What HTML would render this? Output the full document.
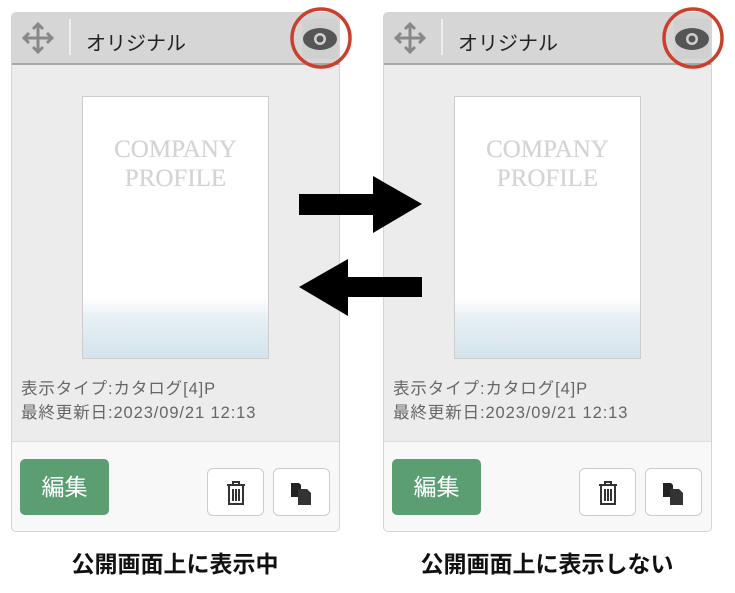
<!DOCTYPE html>
<html><head><meta charset="utf-8"><style>
body{margin:0;width:735px;height:593px;background:#fff;position:relative;overflow:hidden;font-family:"Liberation Sans","Noto Sans CJK JP",sans-serif}
.card{position:absolute;top:12px;width:329px;height:520px;border:1px solid #d4d4d4;border-radius:5px;overflow:hidden;background:#ececec;box-sizing:border-box}
.hd{position:absolute;left:0;top:0;width:100%;height:50px;background:#d6d6d6;border-bottom:2px solid #a8a8a8}
.sep{position:absolute;left:57px;top:6px;width:2px;height:36px;background:#eee}
.ttl{position:absolute;left:74px;top:14px;font-size:20px;color:#222}
.eyeb{position:absolute;left:290px;top:6px;width:36px;height:40px;background:#d0d0d0;border-radius:4px}
.img{position:absolute;left:70px;top:83px;width:187px;height:263px;border:1px solid #ccc;box-sizing:border-box;background:linear-gradient(#fff 0,#fff 200px,#e6eff4 222px,#d3e3ec 262px)}
.ct{position:absolute;left:0;width:100%;text-align:center;font-family:"Liberation Serif",serif;font-size:25px;color:#d4d4d4;text-shadow:0 0 0.5px #d4d4d4}
.info{position:absolute;left:9px;font-size:16.5px;color:#666;letter-spacing:0.9px}
.ft{position:absolute;left:0;top:428px;width:100%;height:92px;background:#f8f8f8;border-top:1px solid #ddd}
.edit{position:absolute;left:8px;top:17px;width:89px;height:56px;background:#5a9e72;border-radius:5px;color:#fff;font-size:23px;text-align:center;line-height:56px}
.btn{position:absolute;top:26px;width:57px;height:48px;background:#fff;border:1px solid #ccc;border-radius:6px;box-sizing:border-box}
.lbl{position:absolute;top:545px;font-size:23px;font-weight:bold;color:#111;text-align:center;width:330px}
</style></head><body>

<div class="card" style="left:11px">
<div class="hd"><svg style="position:absolute;left:8px;top:7px" width="36" height="36" viewBox="0 0 36 36" fill="none" stroke="#888" stroke-width="3"><path d="M18 4v28M4 18h28M13 9l5-5 5 5M13 27l5 5 5-5M9 13l-5 5 5 5M27 13l5 5-5 5"/></svg><div class="sep"></div><div class="ttl">オリジナル</div><div class="eyeb"><svg style="position:absolute;left:1px;top:9px" width="34" height="22" viewBox="0 0 34 22"><ellipse cx="17" cy="11" rx="17" ry="11" fill="#555"/><circle cx="17" cy="11" r="6" fill="#d0d0d0"/><circle cx="17" cy="11" r="3.5" fill="#555"/></svg></div></div>
<div class="img"><div class="ct" style="top:39px">COMPANY</div><div class="ct" style="top:68px">PROFILE</div></div>
<div class="info" style="top:362px">表示タイプ:カタログ[4]P</div>
<div class="info" style="top:386px">最終更新日:2023/09/21 12:13</div>
<div class="ft"><div class="edit">編集</div>
<div class="btn" style="left:195px"><svg style="position:absolute;left:18px;top:12px" width="20" height="24" viewBox="0 0 20 24" fill="none" stroke="#333" stroke-width="2"><path d="M1 4h18M7 4V1h6v3M3 5v18h14V5M7 8v12M10 8v12M13 8v12"/></svg></div>
<div class="btn" style="left:261px"><svg style="position:absolute;left:17px;top:14px" width="22" height="22" viewBox="0 0 22 22"><path d="M0 0h8l2 2v12H0z" fill="#222"/><path d="M7 6h9l4 4v12H7z" fill="#333"/></svg></div>
</div></div>

<div class="card" style="left:383px">
<div class="hd"><svg style="position:absolute;left:8px;top:7px" width="36" height="36" viewBox="0 0 36 36" fill="none" stroke="#888" stroke-width="3"><path d="M18 4v28M4 18h28M13 9l5-5 5 5M13 27l5 5 5-5M9 13l-5 5 5 5M27 13l5 5-5 5"/></svg><div class="sep"></div><div class="ttl">オリジナル</div><div class="eyeb"><svg style="position:absolute;left:1px;top:9px" width="34" height="22" viewBox="0 0 34 22"><ellipse cx="17" cy="11" rx="17" ry="11" fill="#555"/><circle cx="17" cy="11" r="6" fill="#d0d0d0"/><circle cx="17" cy="11" r="3.5" fill="#555"/></svg></div></div>
<div class="img"><div class="ct" style="top:39px">COMPANY</div><div class="ct" style="top:68px">PROFILE</div></div>
<div class="info" style="top:362px">表示タイプ:カタログ[4]P</div>
<div class="info" style="top:386px">最終更新日:2023/09/21 12:13</div>
<div class="ft"><div class="edit">編集</div>
<div class="btn" style="left:195px"><svg style="position:absolute;left:18px;top:12px" width="20" height="24" viewBox="0 0 20 24" fill="none" stroke="#333" stroke-width="2"><path d="M1 4h18M7 4V1h6v3M3 5v18h14V5M7 8v12M10 8v12M13 8v12"/></svg></div>
<div class="btn" style="left:261px"><svg style="position:absolute;left:17px;top:14px" width="22" height="22" viewBox="0 0 22 22"><path d="M0 0h8l2 2v12H0z" fill="#222"/><path d="M7 6h9l4 4v12H7z" fill="#333"/></svg></div>
</div></div>

<svg style="position:absolute;left:0;top:0" width="735" height="593">
<circle cx="321" cy="38" r="29" fill="none" stroke="#c9412c" stroke-width="3.5"/>
<circle cx="693" cy="38" r="29" fill="none" stroke="#c9412c" stroke-width="3.5"/>
<polygon points="299,194 373,194 373,176 422,204 373,233 373,215 299,215" fill="#000"/>
<polygon points="299,287 348,259 348,277 422,277 422,297 348,297 348,316" fill="#000"/>
</svg>

<div class="lbl" style="left:10px">公開画面上に表示中</div>
<div class="lbl" style="left:382px">公開画面上に表示しない</div>
</body></html>
